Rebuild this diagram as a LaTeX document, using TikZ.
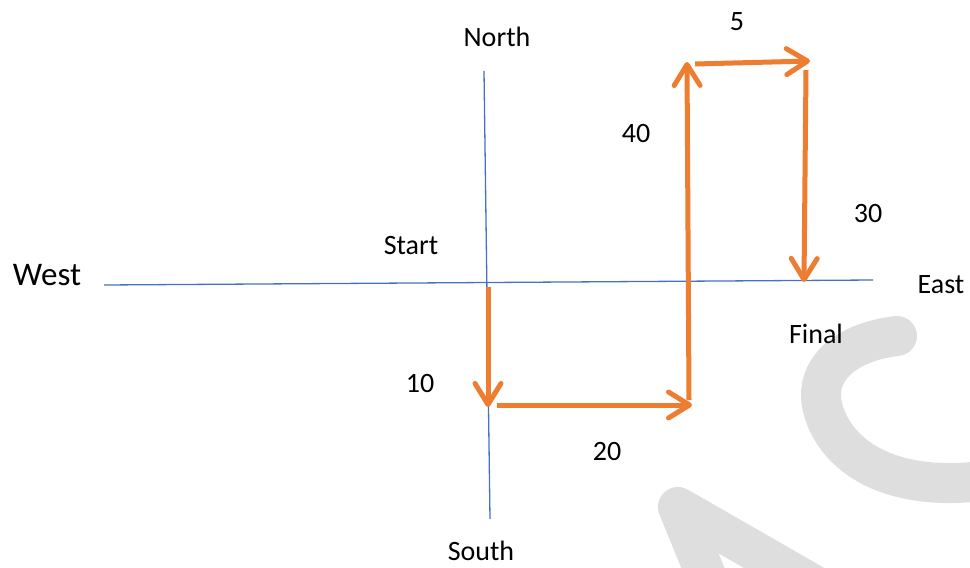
\documentclass[tikz,border=0pt]{standalone}
\usepackage{fontspec}
\setmainfont{Carlito}
\usetikzlibrary{arrows.meta}
\definecolor{axisblue}{HTML}{4472C4}
\definecolor{pathorange}{HTML}{ED7D31}
\definecolor{wmgray}{HTML}{DEDEDE}
\begin{document}
\begin{tikzpicture}[x=1pt,y=-1pt,
  axisline/.style={draw=axisblue,line width=1.3pt},
  leg/.style={draw=pathorange,line width=5pt,
    -{Straight Barb[length=21pt,width=26pt,round]}},
  lbl/.style={font=\fontsize{28}{30}\selectfont,anchor=base,inner sep=0pt},
  biglbl/.style={lbl,font=\fontsize{33}{36}\selectfont},
  wmstroke/.style={draw=wmgray,line width=40pt,line cap=butt,line join=round}]
\useasboundingbox (0,0) rectangle (970,568);

% faint background lettering
\begin{scope}
  \clip (0,0) rectangle (970,568);
  \draw[wmstroke,line cap=round] (897,336) .. controls (845,342) and (815,370) .. (822,405)
        .. controls (832,452) and (885,495) .. (990,480);
  \draw[wmstroke] (716,600) -- (678,507) -- (840,600);
\end{scope}

% compass axes
\coordinate (n) at (484,71);
\coordinate (s) at (490,519);
\coordinate (w) at (104,285);
\coordinate (e) at (873,280);
\draw[axisline] (n) -- (s);
\draw[axisline] (w) -- (e);

% route corners
\coordinate (p0) at (488,287);
\coordinate (p1) at (488,407);
\coordinate (p2a) at (497,405);
\coordinate (p2) at (692,405);
\coordinate (p3a) at (689,400);
\coordinate (p3) at (687,62);
\coordinate (p4a) at (695,64);
\coordinate (p4) at (810,61);
\coordinate (p5a) at (806,70);
\coordinate (p5) at (804,282);

\draw[leg] (p0) -- (p1);
\draw[leg] (p2a) -- (p2);
\draw[leg] (p3a) -- (p3);
\draw[leg] (p4a) -- (p4);
\draw[leg] (p5a) -- (p5);

% labels
\node[lbl] (north) at (497,46) {North};
\node[lbl] (south) at (481,560) {South};
\node[biglbl] (west) at (47,285) {West};
\node[lbl] (east) at (941,293) {East};
\node[lbl] (start) at (411,254) {Start};
\node[lbl] (final) at (816,343) {Final};
\node[lbl] (d10) at (420,392) {10};
\node[lbl] (d20) at (607,460) {20};
\node[lbl] (d40) at (636,142) {40};
\node[lbl] (d5) at (737,30) {5};
\node[lbl] (d30) at (868,222) {30};
\end{tikzpicture}
\end{document}
